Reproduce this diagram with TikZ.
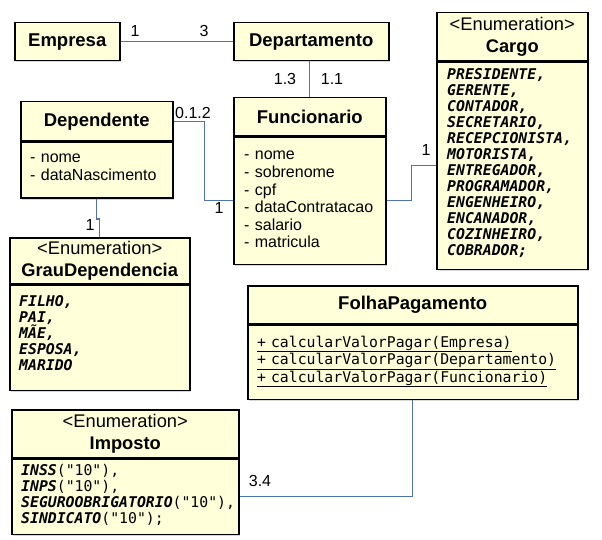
\documentclass[tikz,border=0pt]{standalone}
\usepackage{fontspec}
\setmainfont{Liberation Sans}
\setmonofont{DejaVu Sans Mono}
\usetikzlibrary{shadows}
\definecolor{umlFundo}{RGB}{255,255,218}
\definecolor{umlLinha}{RGB}{79,114,176}
\newcommand{\enumNome}[1]{\textbf{\textit{#1}}}

\begin{document}
\begin{tikzpicture}[x=1pt,y=-1pt,
    caixa/.style={draw, line width=1.5pt, fill=umlFundo, inner sep=0pt, anchor=north west,
      drop shadow={shadow xshift=1.5pt, shadow yshift=-1.5pt, opacity=0.3}},
    cabec/.style={font=\fontsize{18.5}{22}\selectfont\bfseries, align=center},
    estereo/.style={font=\fontsize{18.3}{22}\selectfont, align=center},
    attr/.style={font=\fontsize{16}{17.6}\selectfont, align=left, inner sep=0pt, text width=150pt, anchor=base west},
    enumtxt/.style={font=\fontsize{14.8}{16}\selectfont\ttfamily, align=left, inner sep=0pt, text width=230pt, anchor=base west},
    assoc/.style={draw=umlLinha, line width=1.1pt},
    etiq/.style={font=\fontsize{16}{16}\selectfont, inner sep=0pt}]

    \fill[white] (0,0) rectangle (602,540);
    \useasboundingbox (0,0) rectangle (602,540);

    %% classes
    \node[caixa, cabec, minimum width=105pt, minimum height=38pt] (emp) at (14,22) {Empresa};
    \node[caixa, cabec, minimum width=155pt, minimum height=38pt] (dep) at (233,22) {Departamento};

    \node[caixa, cabec, minimum width=152pt, minimum height=38pt] (funcCab) at (233,97) {Funcionario};
    \node[caixa, minimum width=152pt, minimum height=127pt] (funcCorpo) at (funcCab.south west) {};
    \node[attr] (funcAttr) at (244,160) {- nome\\- sobrenome\\- cpf\\- dataContratacao\\- salario\\- matricula};

    \node[caixa, cabec, minimum width=152pt, minimum height=39pt] (dpdCab) at (20,101) {Dependente};
    \node[caixa, minimum width=152pt, minimum height=56pt] (dpdCorpo) at (dpdCab.south west) {};
    \node[attr] (dpdAttr) at (30,163) {- nome\\- dataNascimento};

    \node[caixa, estereo, minimum width=180pt, minimum height=46pt] (grauCab) at (9,237) {<Enumeration>\\\textbf{GrauDependencia}};
    \node[caixa, minimum width=180pt, minimum height=105pt] (grauCorpo) at (grauCab.south west) {};
    \node[enumtxt] (grauItens) at (19,306) {\enumNome{FILHO,}\\\enumNome{PAI,}\\\enumNome{MÃE,}\\\enumNome{ESPOSA,}\\\enumNome{MARIDO}};

    \node[caixa, estereo, minimum width=151pt, minimum height=48pt] (cargoCab) at (436,12) {<Enumeration>\\\textbf{Cargo}};
    \node[caixa, minimum width=151pt, minimum height=207pt] (cargoCorpo) at (cargoCab.south west) {};
    \node[enumtxt] (cargoItens) at (447,80) {\enumNome{PRESIDENTE,}\\\enumNome{GERENTE,}\\\enumNome{CONTADOR,}\\\enumNome{SECRETARIO,}\\\enumNome{RECEPCIONISTA,}\\\enumNome{MOTORISTA,}\\\enumNome{ENTREGADOR,}\\\enumNome{PROGRAMADOR,}\\\enumNome{ENGENHEIRO,}\\\enumNome{ENCANADOR,}\\\enumNome{COZINHEIRO,}\\\enumNome{COBRADOR;}};

    \node[caixa, cabec, minimum width=330pt, minimum height=38pt] (folhaCab) at (247,285) {FolhaPagamento};
    \node[caixa, minimum width=330pt, minimum height=74pt] (folhaCorpo) at (folhaCab.south west) {};
    \node[enumtxt, text width=320pt, font=\fontsize{14.8}{16.5}\selectfont\ttfamily] (folhaMet) at (257,347) {\underline{+ calcularValorPagar(Empresa)}\\\underline{+ calcularValorPagar(Departamento)}\\\underline{+ calcularValorPagar(Funcionario)}};

    \node[caixa, estereo, minimum width=227pt, minimum height=48pt] (impCab) at (11,409) {<Enumeration>\\\textbf{Imposto}};
    \node[caixa, minimum width=227pt, minimum height=75pt] (impCorpo) at (impCab.south west) {};
    \node[enumtxt] (impItens) at (21,475) {\enumNome{INSS}("10"),\\\enumNome{INPS}("10"),\\\enumNome{SEGUROOBRIGATORIO}("10"),\\\enumNome{SINDICATO}("10");};

    %% associations
    \draw[assoc] (emp.east) -- (dep.west);
    \draw[assoc] (funcCab.north) -- (funcCab.north |- dep.south);
    \draw[assoc] (dpdCab.east) -- ++(31,0) |- (funcCorpo.west);
    \draw[assoc] (dpdCorpo.south) -- ++(0,20) -| (grauCab.north);
    \draw[assoc] (funcCorpo.east) -- ++(25,0) |- (cargoCorpo.west);
    \draw[assoc] (folhaCorpo.south) |- (impCorpo.east);

    % labels
    \node[etiq] (mEmp) at (135,31) {1};
    \node[etiq] (mDep) at (204,31) {3};
    \node[etiq] (mDepF) at (285,79) {1.3};
    \node[etiq] (mFuncD) at (332,79) {1.1};
    \node[etiq] (mDpd) at (193,113) {0.1.2};
    \node[etiq] (mFuncP) at (219,208) {1};
    \node[etiq] (mGrau) at (90,225) {1};
    \node[etiq] (mCargo) at (426,150) {1};
    \node[etiq] (mImp) at (260,481) {3.4};
\end{tikzpicture}
\end{document}
